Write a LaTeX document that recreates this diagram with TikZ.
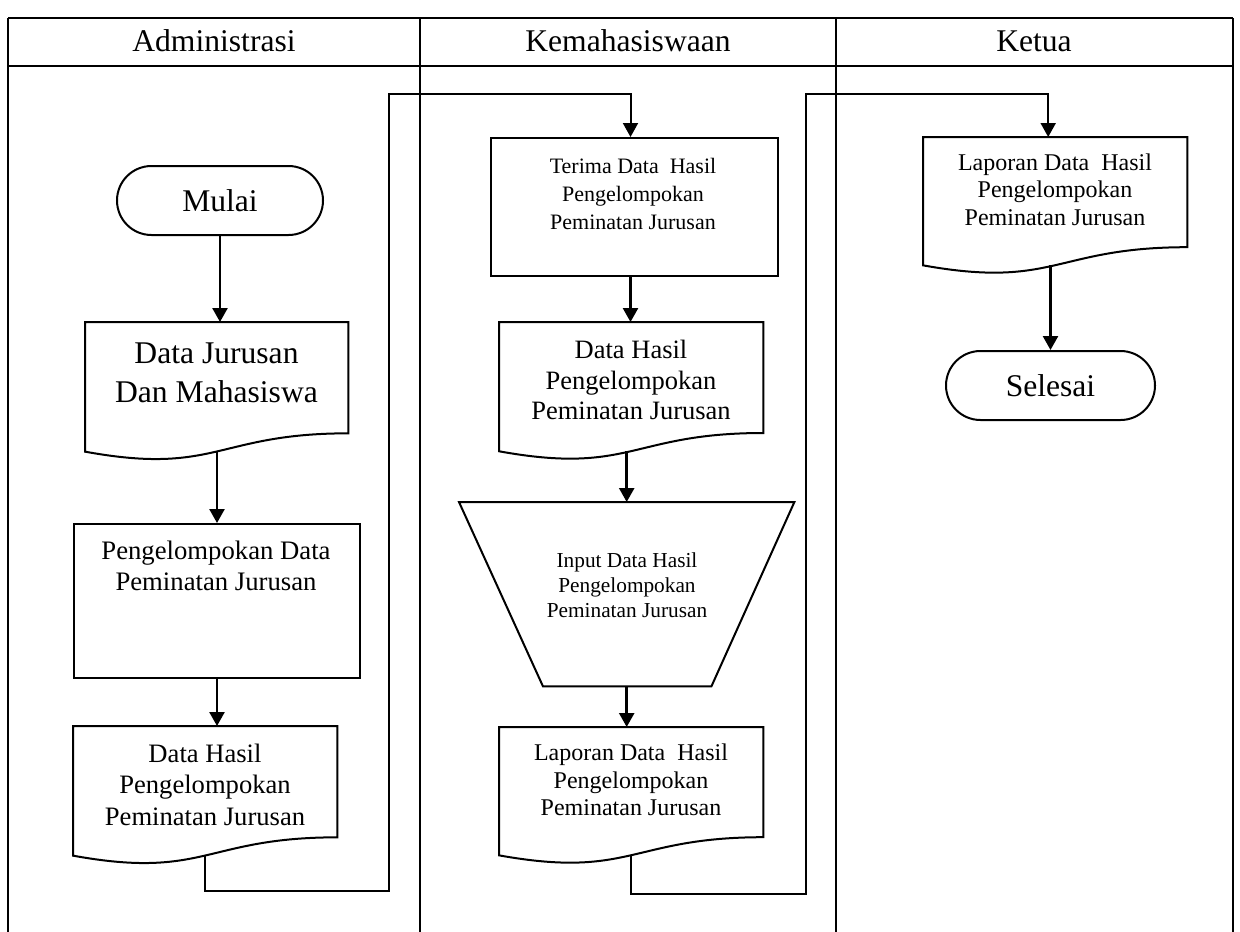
\documentclass[tikz,border=0pt]{standalone}
\usepackage{fontspec}
\setmainfont{Liberation Serif}
\usetikzlibrary{arrows.meta,calc,shapes.misc}
\newcommand{\fsz}[2]{\fontsize{#1}{#2}\selectfont}
\newcommand{\docoutline}[1]{%
  \draw[outline] (#1.north west) -- (#1.north east)
    -- ($(#1.north east)!0.802!(#1.south east)$)
    .. controls ($(#1.north)!0.802!(#1.south)$) and ($(#1.north)!1.1075!(#1.south)$)
    .. ($(#1.north west)!0.934!(#1.south west)$) -- cycle;
  \coordinate (#1b) at ($(#1.north)!0.933!(#1.south)$);}
\begin{document}
\begin{tikzpicture}[x=1pt,y=-1pt,
  frame/.style={line width=2.6pt},
  lane/.style={line width=1.5pt},
  outline/.style={line width=2pt},
  box/.style={draw,line width=2pt,inner sep=0pt,anchor=north west},
  holder/.style={inner sep=0pt,anchor=north west},
  term/.style={draw,line width=2pt,rounded rectangle,inner sep=0pt,font=\fsz{31.6}{38}},
  flow/.style={line width=2.5pt,-{Triangle[width=15pt,length=14pt]}},
  link/.style={line width=2pt,-{Triangle[width=15pt,length=14pt]}},
  txt/.style={align=center,inner sep=0pt}]
\useasboundingbox (0,0) rectangle (1240,932);
% swimlane frame
\draw[frame] (8,18) -- (1233,18);
\draw[frame] (8,66) -- (1233,66);
\draw[lane] (8,18) -- (8,932);
\draw[lane] (420,18) -- (420,932);
\draw[lane] (836,18) -- (836,932);
\draw[lane] (1233,18) -- (1233,932);
\node[txt,font=\fsz{31.6}{38}] (h1) at (214,41) {Administrasi};
\node[txt,font=\fsz{31.6}{38}] (h2) at (628,41) {Kemahasiswaan};
\node[txt,font=\fsz{31.6}{38}] (h3) at (1034,41) {Ketua};

% Administrasi lane
\node[term,minimum width=206pt,minimum height=69pt] (mulai) at (220,200.5) {Mulai};
\node[holder,minimum width=263pt,minimum height=138.4pt] (d1) at (85,322) {};
\docoutline{d1}
\node[txt,font=\fsz{31.6}{39}] (d1t) at (216.5,372.5) {Data Jurusan\\Dan Mahasiswa};
\node[box,minimum width=286pt,minimum height=154pt] (p1) at (73,523) {};
\node[txt,font=\fsz{26.7}{31}] (p1t) at (216,565.5) {Pengelompokan Data\\Peminatan Jurusan};
\node[holder,minimum width=264pt,minimum height=138.4pt] (d2) at (73,726) {};
\docoutline{d2}
\node[txt,font=\fsz{26.6}{31.5}] (d2t) at (205,784.5) {Data Hasil\\Pengelompokan\\Peminatan Jurusan};

% Kemahasiswaan lane
\node[box,minimum width=287pt,minimum height=138pt] (t1) at (490,137) {};
\node[txt,font=\fsz{22}{28}] (t1t) at (633,193.5) {Terima Data\ \ Hasil\\Pengelompokan\\Peminatan Jurusan};
\node[holder,minimum width=264pt,minimum height=138pt] (d3) at (499,322) {};
\docoutline{d3}
\node[txt,font=\fsz{26.5}{30.5}] (d3t) at (631,380) {Data Hasil\\Pengelompokan\\Peminatan Jurusan};
\node[holder,minimum width=335pt,minimum height=184pt] (trap) at (459,502) {};
\draw[outline] (trap.north west) -- (trap.north east) -- ($(trap.south east)+(-83,0)$)
  -- ($(trap.south west)+(84,0)$) -- cycle;
\node[txt,font=\fsz{21.3}{25}] (trapt) at (627,585.5) {Input Data Hasil\\Pengelompokan\\Peminatan Jurusan};
\node[holder,minimum width=264pt,minimum height=137pt] (d4) at (499,727) {};
\docoutline{d4}
\node[txt,font=\fsz{24}{27.5}] (d4t) at (631,780) {Laporan Data\ \ Hasil\\Pengelompokan\\Peminatan Jurusan};

% Ketua lane
\node[holder,minimum width=264pt,minimum height=137pt] (k1) at (923,137) {};
\docoutline{k1}
\node[txt,font=\fsz{24}{27.5}] (k1t) at (1055,189.5) {Laporan Data\ \ Hasil\\Pengelompokan\\Peminatan Jurusan};
\node[term,minimum width=209pt,minimum height=69pt] (selesai) at (1050.5,385.5) {Selesai};

% connectors
\coordinate (j1) at (389,891);
\coordinate (j2) at (389,94);
\coordinate (j3) at (806,894);
\coordinate (j4) at (806,94);
\draw[flow] (mulai.south) -- (mulai.south |- d1.north);
\draw[flow] (p1.north |- d1b) -- (p1.north);
\draw[flow] (p1.south) -- (p1.south |- d2.north);
\draw[link] (d2b) |- (j1) -- (j2) -| ([xshift=-4pt]t1.north);
\draw[flow] ([xshift=-4pt]t1.south) -- ([xshift=-4pt]t1.south |- d3.north);
\draw[flow] (trap.north |- d3b) -- (trap.north);
\draw[flow] (trap.south) -- (trap.south |- d4.north);
\draw[link] (d4b) |- (j3) -- (j4) -| ([xshift=-7pt]k1.north);
\draw[flow] (selesai.north |- k1b) -- (selesai.north);
\end{tikzpicture}
\end{document}
